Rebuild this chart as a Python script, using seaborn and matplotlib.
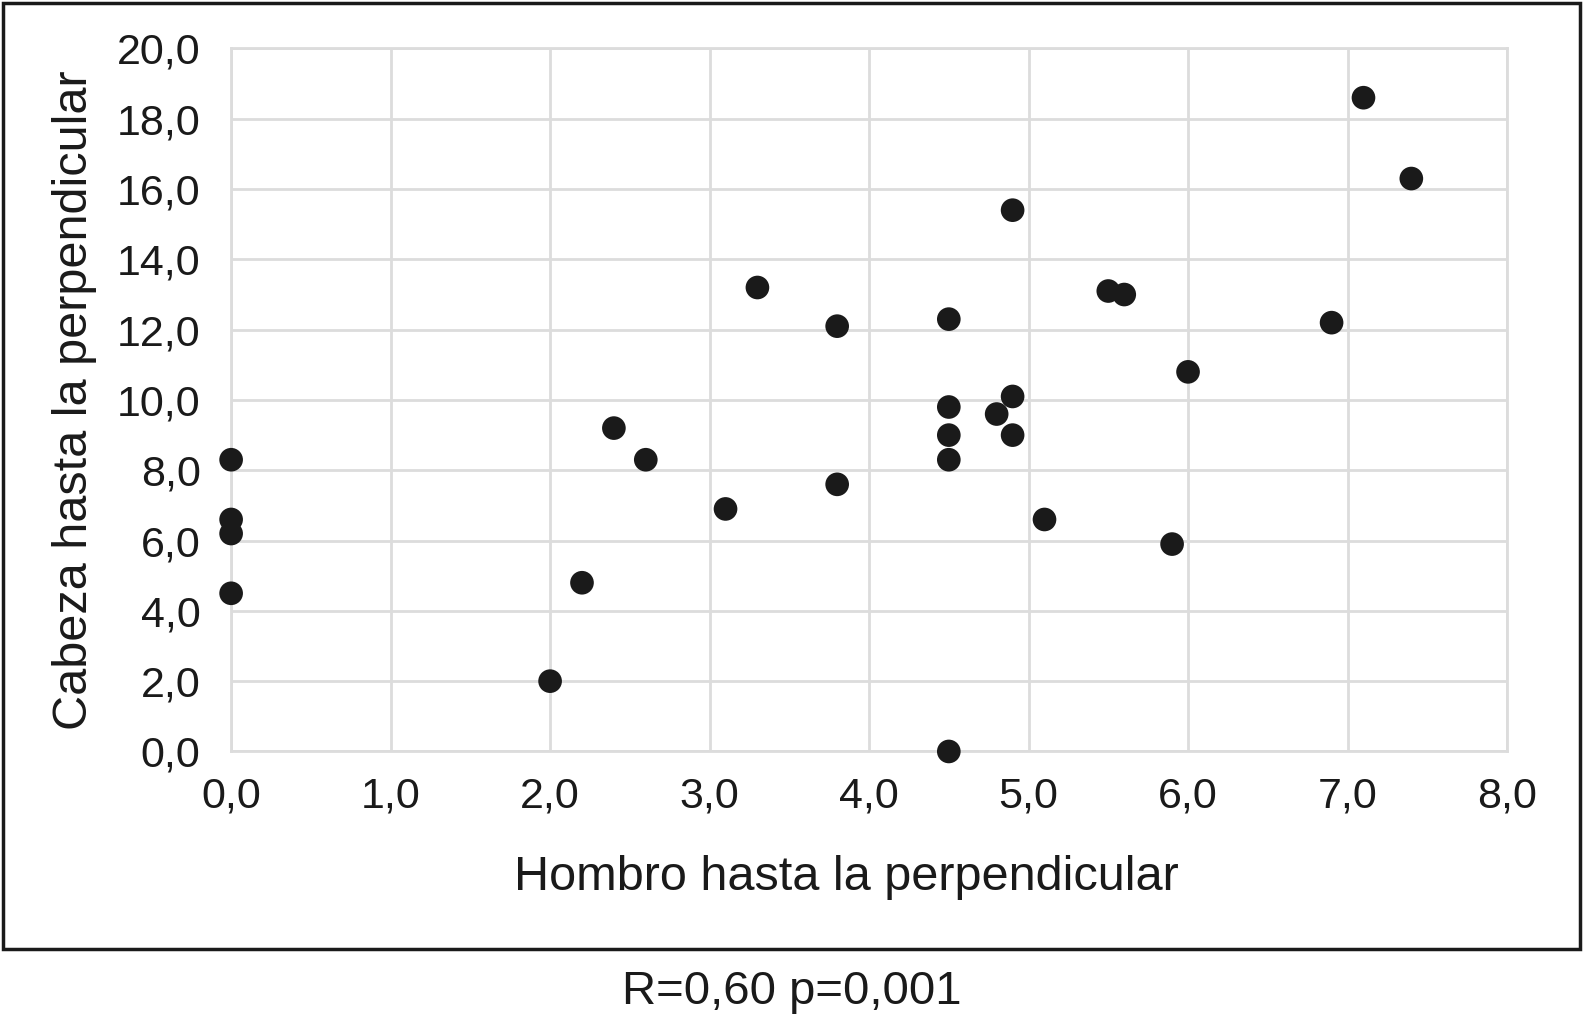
import seaborn as sns
import matplotlib.pyplot as plt
import matplotlib.patches as mpatches
import pandas as pd

# Hombro hasta la perpendicular (x) vs Cabeza hasta la perpendicular (y)
hombro = [0.0, 0.0, 0.0, 0.0, 2.0, 2.2, 2.4, 2.6, 3.1, 3.3, 3.8, 3.8,
          4.5, 4.5, 4.5, 4.5, 4.5, 4.8, 4.9, 4.9, 4.9, 5.1, 5.5, 5.6,
          5.9, 6.0, 6.9, 7.1, 7.4]
cabeza = [8.3, 6.6, 6.2, 4.5, 2.0, 4.8, 9.2, 8.3, 6.9, 13.2, 12.1, 7.6,
          12.3, 9.8, 9.0, 8.3, 0.0, 9.6, 15.4, 10.1, 9.0, 6.6, 13.1, 13.0,
          5.9, 10.8, 12.2, 18.6, 16.3]

df = pd.DataFrame({'hombro': hombro, 'cabeza': cabeza})

sns.set_style('white')
plt.rcParams['font.family'] = ['Liberation Sans', 'DejaVu Sans']

fig = plt.figure(figsize=(15.83, 10.21), dpi=100)
ax = fig.add_axes([0.146, 0.264, 0.806, 0.6885])

sns.scatterplot(data=df, x='hombro', y='cabeza', ax=ax, s=290,
                color='#1a1a1a', edgecolor='none', zorder=3, clip_on=False)

ax.set_xlim(0, 8)
ax.set_ylim(0, 20)
ax.set_xticks(range(0, 9))
ax.set_yticks(range(0, 21, 2))
ax.set_xticklabels([f'{v},0' for v in range(0, 9)])
ax.set_yticklabels([f'{v},0' for v in range(0, 21, 2)])
ax.grid(True, color='#dcdcdc', linewidth=2)
ax.set_axisbelow(True)
for sp in ax.spines.values():
    sp.set_color('#dcdcdc')
    sp.set_linewidth(2)
ax.tick_params(length=0, labelsize=31, colors='#1a1a1a')
ax.tick_params(axis='y', pad=22)
ax.tick_params(axis='x', pad=18)
ax.set_xlabel('Hombro hasta la perpendicular', fontsize=35, color='#1a1a1a')
ax.set_ylabel('Cabeza hasta la perpendicular', fontsize=35, color='#1a1a1a', labelpad=14)
ax.xaxis.set_label_coords(0.482, -0.148)

frame = mpatches.Rectangle((0.002, 0.0705), 0.996, 0.9265, transform=fig.transFigure,
                           fill=False, edgecolor='#1a1a1a', linewidth=2.5)
fig.patches.append(frame)
fig.text(0.5, 0.028, 'R=0,60 p=0,001', ha='center', va='center', fontsize=34, color='#1a1a1a')

fig.savefig('out.png', dpi=100)
